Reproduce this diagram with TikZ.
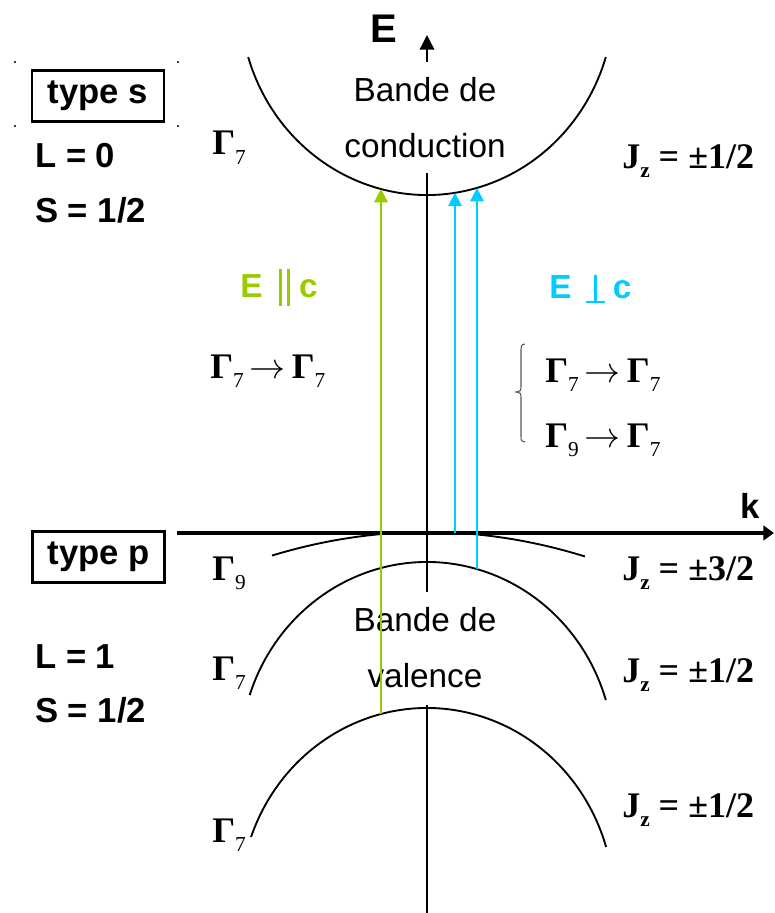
\RequirePackage{fix-cm}
\documentclass[tikz,border=0pt]{standalone}
\usepackage{fontspec}
\setmainfont{Liberation Serif}
\setsansfont{Liberation Sans}
\usetikzlibrary{arrows.meta,positioning}

\definecolor{parcol}{RGB}{153,204,0}
\definecolor{perpcol}{RGB}{0,204,255}
\newcommand{\Gam}[1]{\textbf{Γ}\raisebox{-7pt}{\fontsize{16}{16}\selectfont #1}}
\newcommand{\Jlab}[1]{\textbf{J}\raisebox{-7pt}{\fontsize{16}{16}\selectfont\bfseries z}\textbf{\ =\ ±#1}}
\newcommand{\parbar}{\raisebox{-7pt}{\rule{2.4pt}{28pt}\hspace{3.6pt}\rule{2.4pt}{28pt}}}
\newcommand{\perpbar}{\raisebox{-3.75pt}{\rlap{\rule{14pt}{1.8pt}}\hspace{6.1pt}\rule{2pt}{21pt}\hspace{5.9pt}}}

\begin{document}
\begin{tikzpicture}[x=0.75pt,y=-0.75pt,
    band/.style={line width=1.4pt},
    axisline/.style={line width=1pt},
    kaxis/.style={line width=2.4pt,-{Triangle[length=8pt,width=11pt]}},
    eaxis/.style={line width=1pt,-{Triangle[length=11pt,width=11pt]}},
    trans/.style={line width=1.7pt,-{Triangle[length=10pt,width=10pt]}},
    typebox/.style={draw,line width=2.2pt,minimum width=99pt,minimum height=38pt,inner sep=0pt,
        font=\sffamily\bfseries\fontsize{26}{31}\selectfont},
    big/.style={font=\sffamily\bfseries\fontsize{26}{31}\selectfont,inner sep=0pt},
    bandtxt/.style={font=\sffamily\fontsize{25}{30}\selectfont,inner sep=0pt,anchor=base},
    sym/.style={font=\fontsize{27}{32}\selectfont,inner sep=0pt,anchor=base west}]
\useasboundingbox (0,0) rectangle (774,913);

% axes
\coordinate (k0) at (177,533);
\coordinate (k1) at (774,533);
\draw[kaxis] (k0) -- (k1);
\coordinate (e0) at (427,62);
\coordinate (e1) at (427,35);
\draw[eaxis] (e0) -- (e1);
\coordinate (m0) at (427,173);
\coordinate (m1) at (427,592);
\draw[axisline] (m0) -- (m1);
\coordinate (b0) at (427,705);
\coordinate (b1) at (427,913);
\draw[axisline] (b0) -- (b1);
\node[big,font=\sffamily\bfseries\fontsize{30}{36}\selectfont] (elab) at (384,29) {E};
\node[big] (klab) at (750,506) {k};

% bands
\coordinate (cb) at (427,0);
\coordinate (lh) at (427,757);
\coordinate (so) at (427,903);
\draw[band] ([shift={(163:187 and 195)}]cb) arc[start angle=163,end angle=17,x radius=187,y radius=195];
\draw[band] ([shift={(198.5:187 and 195)}]lh) arc[start angle=198.5,end angle=343,x radius=187,y radius=195];
\draw[band] ([shift={(199.8:187 and 195)}]so) arc[start angle=199.8,end angle=343.3,x radius=187,y radius=195];
\draw[band] plot[domain=-1.55:1.58,samples=41] (427+100*\x,532+9.8*\x*\x);

\node[bandtxt] (bc1) at (425,102) {Bande de};
\node[bandtxt] (bc2) at (425,157) {conduction};
\node[bandtxt] (bv1) at (425,631) {Bande de};
\node[bandtxt] (bv2) at (425,687) {valence};

% transitions
\coordinate (gA) at (381,714);
\coordinate (gB) at (381,189);
\coordinate (cA) at (455,533);
\coordinate (cB) at (455,192.8);
\coordinate (dA) at (477,569);
\coordinate (dB) at (477,188);
\draw[trans,parcol] (gA) -- (gB);
\draw[trans,perpcol] (cA) -- (cB);
\draw[trans,perpcol] (dA) -- (dB);

\node[big,parcol,anchor=base west,font=\sffamily\bfseries\fontsize{25}{30}\selectfont] (epar) at (240,297) {E\hspace{12pt}\parbar\hspace{7pt}c};
\node[big,perpcol,anchor=base west,font=\sffamily\bfseries\fontsize{25}{30}\selectfont] (eperp) at (549,298) {E\hspace{11pt}\perpbar\hspace{6pt}c};

% left column
\fill (15,62) circle[radius=0.9pt];
\fill (178,62) circle[radius=0.9pt];
\fill (15,126) circle[radius=0.9pt];
\fill (178,126) circle[radius=0.9pt];
\node[typebox] (ts) at (98,96) {type s};
\node[big,anchor=base west] (ls) at (35,167) {L = 0};
\node[big,anchor=base west] (ss) at (35,222) {S = 1/2};
\node[typebox] (tp) at (98.5,557) {type p};
\node[big,anchor=base west] (lp) at (35,668) {L = 1};
\node[big,anchor=base west] (sp) at (35,722) {S = 1/2};

% symmetry labels
\node[sym] (gc) at (212,155) {\Gam{7}};
\node[sym] (gh) at (212,580) {\Gam{9}};
\node[sym] (gl) at (212,680) {\Gam{7}};
\node[sym] (gs) at (212,842) {\Gam{7}};
\node[sym] (jc) at (622,168) {\Jlab{1/2}};
\node[sym] (jh) at (622,580) {\Jlab{3/2}};
\node[sym] (jl) at (622,682) {\Jlab{1/2}};
\node[sym] (js) at (622,817) {\Jlab{1/2}};

\node[sym] (tpar) at (210,378) {\Gam{7}\,$\rightarrow$\,\Gam{7}};
\node[sym] (tp1) at (545,382) {\Gam{7}\,$\rightarrow$\,\Gam{7}};
\node[sym] (tp2) at (545,447) {\Gam{9}\,$\rightarrow$\,\Gam{7}};
\draw[gray!70!black,line width=0.8pt] (525,344) .. controls (521,345) .. (521,352) -- (521,385)
    .. controls (521,391) .. (516,392) .. controls (521,393) .. (521,399) -- (521,436)
    .. controls (521,441) .. (525,442);
\end{tikzpicture}
\end{document}
